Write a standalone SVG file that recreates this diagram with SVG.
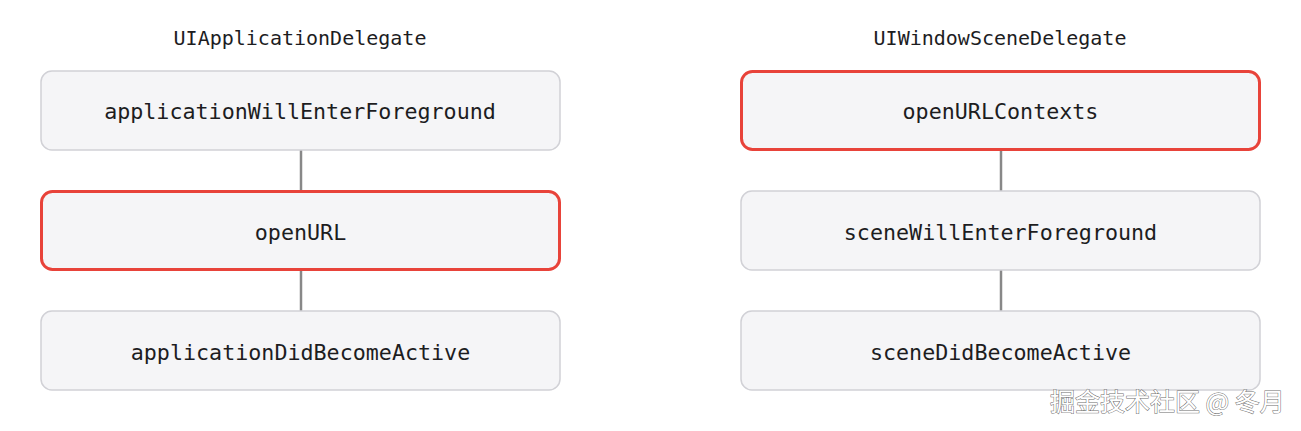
<svg xmlns="http://www.w3.org/2000/svg" width="1301" height="431" viewBox="0 0 1301 431">
<style>
.bg{fill:#ffffff}
.box{fill:#f5f5f7;stroke:#d1d1d6;stroke-width:1.5}
.hl{fill:#f5f5f7;stroke:#e8433a;stroke-width:3}
.lbl{font-family:"DejaVu Sans Mono",monospace;font-size:21.7px;fill:#1d1d1f;text-anchor:middle}
.ttl{font-family:"DejaVu Sans Mono",monospace;font-size:20px;fill:#1d1d1f;text-anchor:middle}
.ln{stroke:#888888;stroke-width:2.5}
.wm{font-family:"Noto Sans CJK SC","Noto Sans",sans-serif;font-size:25px;fill:#ffffff;stroke:#6e6e6e;stroke-width:1;paint-order:stroke}
</style>
<rect class="bg" x="0" y="0" width="1301" height="431"/>
<text class="ttl" x="300" y="45">UIApplicationDelegate</text>
<text class="ttl" x="1000" y="45">UIWindowSceneDelegate</text>
<g id="connectors">
<line class="ln" x1="301" y1="150" x2="301" y2="191"/>
<line class="ln" x1="301" y1="270" x2="301" y2="311"/>
<line class="ln" x1="1001" y1="150" x2="1001" y2="191"/>
<line class="ln" x1="1001" y1="270" x2="1001" y2="311"/>
</g>
<g id="appWillEnterForeground">
<rect class="box" x="41" y="71" width="519" height="79" rx="11"/>
<text class="lbl" x="300" y="119">applicationWillEnterForeground</text>
</g>
<g id="openURL">
<rect class="hl" x="41.5" y="191.5" width="518" height="78" rx="11"/>
<text class="lbl" x="300.5" y="239.5">openURL</text>
</g>
<g id="appDidBecomeActive">
<rect class="box" x="41" y="311" width="519" height="79" rx="11"/>
<text class="lbl" x="300.5" y="359.5">applicationDidBecomeActive</text>
</g>
<g id="openURLContexts">
<rect class="hl" x="741.5" y="71.5" width="518" height="78" rx="11"/>
<text class="lbl" x="1000.5" y="119">openURLContexts</text>
</g>
<g id="sceneWillEnterForeground">
<rect class="box" x="741" y="191" width="519" height="79" rx="11"/>
<text class="lbl" x="1000.5" y="239.5">sceneWillEnterForeground</text>
</g>
<g id="sceneDidBecomeActive">
<rect class="box" x="741" y="311" width="519" height="79" rx="11"/>
<text class="lbl" x="1000.5" y="359.5">sceneDidBecomeActive</text>
</g>
<text class="wm" x="1050" y="411">掘金技术社区 @ 冬月</text>
</svg>
